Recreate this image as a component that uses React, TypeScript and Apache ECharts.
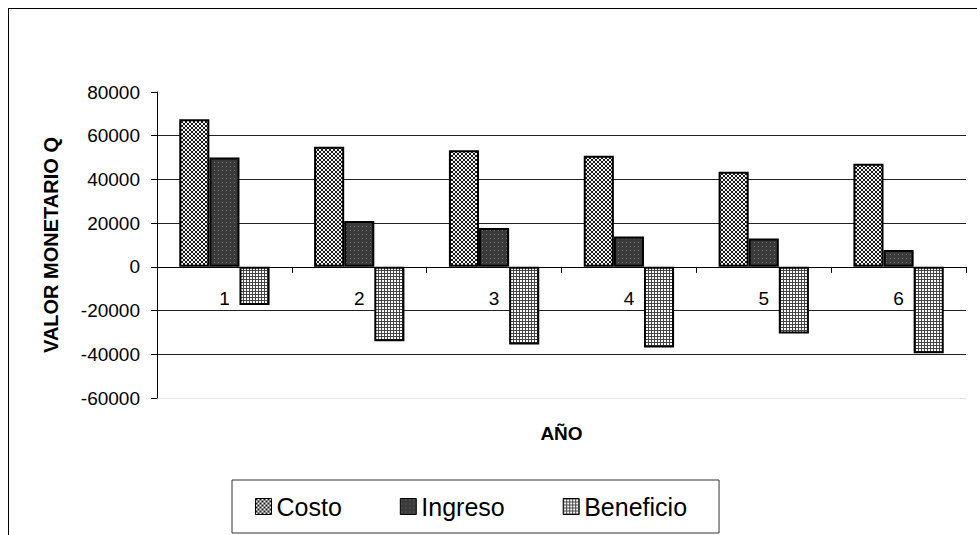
import React, { useEffect, useRef } from "react";
import * as echarts from "echarts";

const categories = ["1", "2", "3", "4", "5", "6"];
const costo = [67500, 55000, 53300, 50800, 43500, 47200];
const ingreso = [50000, 21000, 17800, 13900, 13000, 7700];
const beneficio = [-17500, -34000, -35500, -36900, -30500, -39500];
const seriesNames = ["Costo", "Ingreso", "Beneficio"];

const FONT = "'Liberation Sans', Arial, sans-serif";

function makeTile(kind: string): HTMLCanvasElement {
  const c = document.createElement("canvas");
  if (kind === "costo") {
    c.width = 4; c.height = 4;
    const g = c.getContext("2d")!;
    g.fillStyle = "#f4f4f4"; g.fillRect(0, 0, 4, 4);
    g.fillStyle = "#1a1a1a";
    g.fillRect(0, 0, 2, 2); g.fillRect(2, 2, 2, 2);
  } else if (kind === "ingreso") {
    c.width = 4; c.height = 4;
    const g = c.getContext("2d")!;
    g.fillStyle = "#3a3a3a"; g.fillRect(0, 0, 4, 4);
    g.fillStyle = "#6e6e6e"; g.fillRect(1, 1, 1, 1);
  } else {
    c.width = 3; c.height = 3;
    const g = c.getContext("2d")!;
    g.fillStyle = "#ffffff"; g.fillRect(0, 0, 3, 3);
    g.fillStyle = "#444444";
    g.fillRect(0, 0, 3, 1); g.fillRect(0, 0, 1, 3);
  }
  return c;
}

export default function App() {
  const ref = useRef<HTMLDivElement>(null);
  useEffect(() => {
    if (!ref.current) return;
    const chart = echarts.init(ref.current, null, { renderer: "svg" });
    const pats = ["costo", "ingreso", "beneficio"].map((k) => ({
      image: makeTile(k),
      repeat: "repeat",
    }));
    const datas = [costo, ingreso, beneficio];
    chart.setOption({
      animation: false,
      backgroundColor: "#fff",
      textStyle: { fontFamily: FONT, color: "#000" },
      grid: {
        left: 148,
        right: 11,
        top: 83,
        bottom: 138,
        containLabel: false,
        outerBoundsMode: "none",
      },
      legend: {
        data: seriesNames,
        left: 223,
        top: 471,
        orient: "horizontal",
        borderColor: "#333",
        borderWidth: 1,
        padding: [14, 32, 14, 23],
        itemGap: 58,
        itemWidth: 16,
        itemHeight: 16,
        icon: "rect",
        itemStyle: { borderColor: "#000", borderWidth: 1 },
        textStyle: { fontSize: 25, fontFamily: FONT, color: "#000" },
        selectedMode: false,
      },
      xAxis: {
        type: "category",
        data: categories,
        name: "AÑO",
        nameLocation: "middle",
        nameGap: 26,
        nameTextStyle: { fontSize: 19, fontWeight: "bold", fontFamily: FONT, color: "#000" },
        axisLine: { onZero: true, lineStyle: { color: "#000", width: 1 } },
        axisTick: { show: true, inside: false, length: 6, lineStyle: { color: "#000" } },
        axisLabel: { fontSize: 19, color: "#000", margin: -109, fontFamily: FONT },
        splitLine: { show: false },
      },
      yAxis: {
        type: "value",
        min: -60000,
        max: 80000,
        interval: 20000,
        name: "VALOR MONETARIO Q",
        nameLocation: "middle",
        nameGap: 96,
        nameRotate: 90,
        nameTextStyle: { fontSize: 20, fontWeight: "bold", fontFamily: FONT, color: "#000" },
        axisLine: { show: true, lineStyle: { color: "#000", width: 1 } },
        axisTick: { show: true, inside: false, length: 6, lineStyle: { color: "#000" } },
        axisLabel: {
          fontSize: 19,
          color: "#000",
          margin: 17,
          fontFamily: FONT,
          formatter: (v: number) => String(v),
        },
        splitLine: {
          show: true,
          lineStyle: {
            color: ["#e6e6e6", "#222", "#222", "#222", "#222", "#222", "#222", "rgba(0,0,0,0)"],
            width: 1,
          },
        },
      },
      series: seriesNames.map((name, i) => ({
        name,
        type: "bar",
        data: datas[i],
        barGap: "0%",
        barCategoryGap: "33%",
        itemStyle: { color: pats[i], borderColor: "#000", borderWidth: 2 },
      })),
    });
    return () => chart.dispose();
  }, []);
  return (
    <div
      style={{
        position: "fixed",
        left: 8,
        top: 8,
        width: 968,
        height: 527,
        borderLeft: "1px solid #000",
        borderTop: "1px solid #000",
        background: "#fff",
      }}
    >
      <div ref={ref} style={{ width: 968, height: 527 }} />
    </div>
  );
}
